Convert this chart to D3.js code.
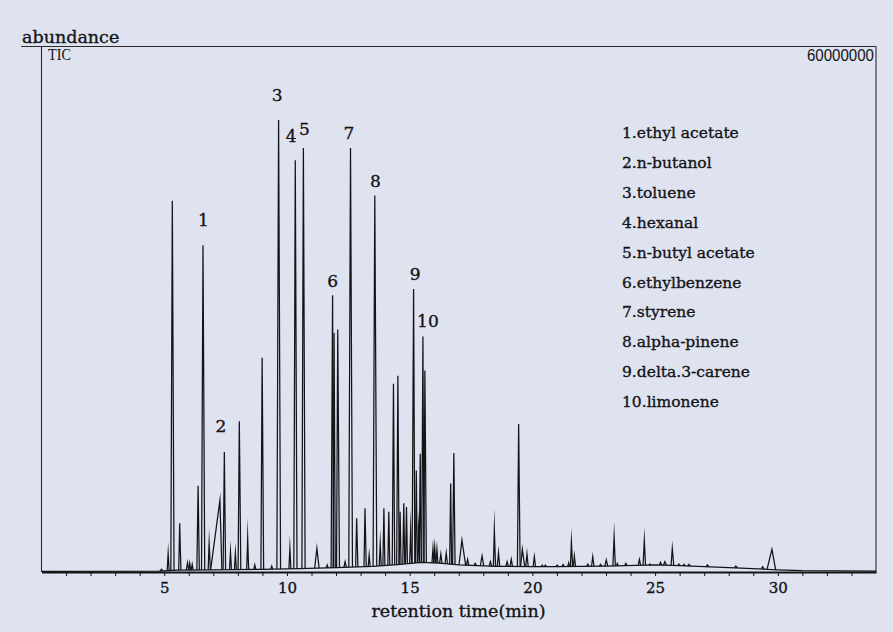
<!DOCTYPE html>
<html><head><meta charset="utf-8">
<script src="https://cdn.jsdelivr.net/npm/d3@7"></script>
<style>
html,body{margin:0;padding:0;background:#dfe3ef;}
svg{display:block;}
</style>
</head><body>
<svg id="chart" width="893" height="632"></svg>
<script>
// ---- data (retention time in min, abundance in millions) ----
const baseTime  = [0, 4.8, 5.5, 7, 9, 10.5, 12, 13.5, 14.5, 15.5, 16.2, 17, 18.5, 20, 21, 23, 25, 26, 27, 28.5, 30, 31, 34];
const baseLevel = [0.08, 0.1, 0.2, 0.25, 0.3, 0.38, 0.5, 0.65, 0.85, 1.1, 1.0, 0.8, 0.65, 0.6, 0.6, 0.68, 0.8, 0.72, 0.62, 0.45, 0.25, 0.15, 0.1];

// [retention time, apex abundance, left half-width, right half-width]
const peaks = [
  [4.89, 0.31, 0.06, 0.06], [5.16, 2.13, 0.04, 0.04], [5.33, 42.4, 0.06, 0.07], [5.63, 5.56, 0.04, 0.05],
  [5.95, 1.06, 0.05, 0.05], [6.04, 0.99, 0.04, 0.04], [6.14, 0.86, 0.04, 0.04], [6.38, 9.85, 0.05, 0.05],
  [6.58, 37.3, 0.06, 0.07], [6.83, 3.27, 0.04, 0.05], [7.27, 8.2, 0.38, 0.08], [7.45, 13.7, 0.05, 0.05],
  [7.70, 2.32, 0.04, 0.04], [7.90, 2.17, 0.04, 0.04], [8.06, 17.2, 0.05, 0.06], [8.40, 3.88, 0.04, 0.04],
  [8.69, 0.8, 0.04, 0.04], [8.99, 24.45, 0.05, 0.06], [9.38, 0.68, 0.04, 0.04], [9.66, 51.6, 0.07, 0.08],
  [10.12, 2.7, 0.04, 0.04], [10.34, 47.0, 0.06, 0.07], [10.67, 48.4, 0.06, 0.07], [11.22, 2.7, 0.09, 0.09],
  [11.64, 0.8, 0.04, 0.04], [11.86, 31.6, 0.06, 0.04], [11.92, 27.3, 0.04, 0.05], [12.07, 27.7, 0.05, 0.07],
  [12.37, 1.18, 0.05, 0.05], [12.59, 48.4, 0.07, 0.08], [12.84, 6.13, 0.04, 0.05], [13.18, 7.27, 0.04, 0.05],
  [13.35, 1.94, 0.04, 0.04], [13.58, 43.0, 0.07, 0.08], [13.80, 3.25, 0.04, 0.04], [13.95, 7.27, 0.04, 0.04],
  [14.15, 6.88, 0.04, 0.04], [14.34, 21.5, 0.05, 0.05], [14.52, 22.4, 0.05, 0.05], [14.61, 6.88, 0.04, 0.04],
  [14.76, 7.84, 0.04, 0.04], [14.87, 7.42, 0.04, 0.04], [15.04, 4.79, 0.04, 0.04], [15.16, 32.3, 0.06, 0.05],
  [15.27, 11.6, 0.04, 0.04], [15.36, 4.79, 0.04, 0.04], [15.43, 13.5, 0.04, 0.04], [15.54, 26.9, 0.05, 0.04],
  [15.62, 23.0, 0.04, 0.06], [15.95, 2.7, 0.04, 0.04], [16.02, 2.8, 0.04, 0.04], [16.11, 2.59, 0.04, 0.04],
  [16.27, 2.05, 0.05, 0.05], [16.49, 2.17, 0.05, 0.05], [16.67, 10.1, 0.04, 0.04], [16.80, 13.6, 0.05, 0.05],
  [17.13, 3.65, 0.12, 0.15], [17.36, 1.45, 0.05, 0.05], [17.67, 0.99, 0.05, 0.05], [17.95, 1.83, 0.07, 0.07],
  [18.29, 1.18, 0.05, 0.05], [18.45, 4.87, 0.04, 0.05], [18.62, 2.2, 0.05, 0.05], [18.97, 1.18, 0.05, 0.05],
  [19.14, 1.45, 0.05, 0.05], [19.44, 16.9, 0.05, 0.06], [19.59, 2.59, 0.07, 0.1], [19.78, 2.05, 0.05, 0.05],
  [20.08, 1.75, 0.05, 0.05], [20.40, 0.8, 0.05, 0.05], [20.53, 0.8, 0.05, 0.05], [21.01, 0.8, 0.05, 0.05],
  [21.25, 0.86, 0.05, 0.05], [21.48, 1.06, 0.04, 0.04], [21.59, 3.46, 0.04, 0.05], [21.71, 1.83, 0.04, 0.05],
  [22.26, 0.91, 0.05, 0.05], [22.46, 1.75, 0.05, 0.05], [22.78, 0.88, 0.05, 0.05], [23.01, 1.37, 0.06, 0.06],
  [23.33, 4.03, 0.05, 0.05], [23.46, 0.99, 0.04, 0.04], [23.81, 0.99, 0.05, 0.05], [24.36, 1.45, 0.05, 0.05],
  [24.56, 3.65, 0.05, 0.05], [24.79, 0.91, 0.04, 0.04], [25.22, 1.1, 0.05, 0.05], [25.40, 1.18, 0.06, 0.06],
  [25.70, 2.7, 0.05, 0.06], [25.97, 0.91, 0.05, 0.05], [26.18, 0.88, 0.05, 0.05], [26.38, 0.88, 0.05, 0.05],
  [27.13, 0.8, 0.06, 0.06], [28.29, 0.68, 0.06, 0.06], [29.38, 0.6, 0.06, 0.06], [29.76, 2.59, 0.2, 0.15]
];

const legendItems = ["1.ethyl acetate", "2.n-butanol", "3.toluene", "4.hexanal", "5.n-butyl acetate",
  "6.ethylbenzene", "7.styrene", "8.alpha-pinene", "9.delta.3-carene", "10.limonene"];
// peak number -> retention time of the labelled peak
const labelText = ["1", "2", "3", "4", "5", "6", "7", "8", "9", "10"];
const labelTime = [6.58, 7.45, 9.66, 10.34, 10.67, 11.86, 12.59, 13.58, 15.16, 15.54];
const majorTicks = [5, 10, 15, 20, 25, 30];
const minorTicks = [1,2,3,4,5,6,7,8,9,10,11,12,13,14,15,16,17,18,19,20,21,22,23,24,25,26,27,28,29,30,31,32,33];
const fullScaleLabel = "60000000";

// ---- layout ----
const svg = d3.select("#chart");
const mLeft = 41.5, mRight = 876, mTop = 46.5, mBottom = 572;
const x = d3.scaleLinear().domain([0, 34]).range([mLeft, mRight]);
const y = d3.scaleLinear().domain([0, 60]).range([mBottom, mTop]);
const base = d3.scaleLinear().domain(baseTime).range(baseLevel).clamp(true);
const labelDx = [0.5, -3.5, -1.5, -4, 1, 0, -1.5, 0.5, 1.5, 5];
const labelDy = [-19, -20, -19, -18, -13, -8, -9, -8, -9, -9];

const serif = "'DejaVu Serif', serif";
const ink = "#141418";
const textStroke = t => t.attr("stroke", ink).attr("stroke-width", 0.35);

// frame
svg.append("line").attr("x1", 21).attr("x2", mRight).attr("y1", mTop).attr("y2", mTop)
  .attr("stroke", "#2a2a2e").attr("stroke-width", 1.1);
svg.append("line").attr("x1", mLeft).attr("x2", mLeft).attr("y1", mTop).attr("y2", mBottom)
  .attr("stroke", "#2a2a2e").attr("stroke-width", 1.1);
svg.append("line").attr("x1", mRight).attr("x2", mRight).attr("y1", mTop).attr("y2", mBottom)
  .attr("stroke", "#2a2a2e").attr("stroke-width", 1.1);

// x axis
const axis = d3.axisBottom(x).tickValues(minorTicks).tickSize(4).tickSizeOuter(0).tickPadding(6)
  .tickFormat(d => majorTicks.includes(d) ? d : "");
const gx = svg.append("g").attr("transform", `translate(0,${mBottom})`).call(axis);
gx.select(".domain").attr("stroke", ink).attr("stroke-width", 1.8);
gx.selectAll(".tick line").attr("stroke", ink).attr("stroke-width", 1);
gx.selectAll(".tick text").attr("font-family", serif).attr("font-size", 15).attr("fill", ink).call(textStroke);

// trace: baseline then peaks
const line = d3.line().x(d => x(d[0])).y(d => y(d[1]));
const traceG = svg.append("g").attr("fill", "none").attr("stroke", ink).attr("stroke-width", 1.25)
  .attr("stroke-linejoin", "miter").attr("stroke-miterlimit", 40);
traceG.append("path").attr("d", line(baseTime.map((t, i) => [t, baseLevel[i]])));
traceG.selectAll("path.peak").data(peaks).enter().append("path").attr("class", "peak")
  .attr("d", p => line([[p[0] - p[2], base(p[0] - p[2])], [p[0], p[1]], [p[0] + p[3], base(p[0] + p[3])]]));

// peak labels
const peakApex = t => peaks.find(p => p[0] === t);
svg.append("g").selectAll("text").data(labelText).enter().append("text")
  .attr("x", (d, i) => x(labelTime[i]) + labelDx[i])
  .attr("y", (d, i) => y(peakApex(labelTime[i])[1]) + labelDy[i])
  .attr("text-anchor", "middle").attr("font-family", serif).attr("font-size", 17).attr("fill", ink)
  .call(textStroke).text(d => d);

// legend
svg.append("g").selectAll("text").data(legendItems).enter().append("text")
  .attr("x", 622).attr("y", (d, i) => 138 + i * 29.9)
  .attr("font-family", serif).attr("font-size", 15.5).attr("fill", ink).call(textStroke).text(d => d);

// texts
svg.append("text").attr("x", 22).attr("y", 43).attr("font-family", serif).attr("font-size", 17.5)
  .attr("fill", ink).call(textStroke).text("abundance");
svg.append("text").attr("x", 48).attr("y", 60).attr("font-family", "'Liberation Serif', serif")
  .attr("font-size", 16).attr("textLength", 23).attr("lengthAdjust", "spacingAndGlyphs")
  .attr("fill", ink).text("TIC");
svg.append("text").attr("x", 874).attr("y", 61).attr("text-anchor", "end")
  .attr("font-family", "'Liberation Sans', sans-serif").attr("font-size", 17)
  .attr("textLength", 67).attr("lengthAdjust", "spacingAndGlyphs").attr("fill", ink).text(fullScaleLabel);
svg.append("text").attr("x", (369 + 548) / 2).attr("y", 617).attr("text-anchor", "middle")
  .attr("font-family", serif).attr("font-size", 17.5).attr("fill", ink).call(textStroke).text("retention time(min)");
</script>
</body></html>
